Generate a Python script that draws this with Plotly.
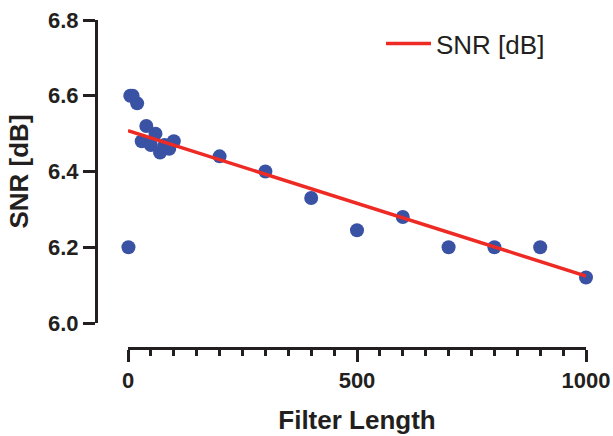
import plotly.graph_objects as go

filter_length = [1, 5, 10, 20, 30, 40, 50, 60, 70, 80, 90, 100,
                 200, 300, 400, 500, 600, 700, 800, 900, 1000]
snr_db = [6.20, 6.60, 6.60, 6.58, 6.48, 6.52, 6.47, 6.50, 6.45, 6.47, 6.46, 6.48,
          6.44, 6.40, 6.33, 6.245, 6.28, 6.20, 6.20, 6.20, 6.12]
fit_x = [0, 1000]
fit_y = [6.508, 6.124]

x_ticks = [0, 500, 1000]
y_ticks = [6.0, 6.2, 6.4, 6.6, 6.8]

FONT = "Liberation Sans, Arial, sans-serif"
W, H = 613, 436
ml, mt = 96, 20
mr = W - 586
mb = H - 348
pw = W - ml - mr
ph = H - mt - mb

fig = go.Figure()
fig.add_trace(go.Scatter(
    x=filter_length, y=snr_db, mode="markers",
    marker=dict(size=14, color="#3A52A4", line=dict(width=0)),
    showlegend=False, cliponaxis=False))
fig.add_trace(go.Scatter(
    x=fit_x, y=fit_y, mode="lines", name="SNR [dB]",
    line=dict(color="#EE2A24", width=3.5), cliponaxis=False))

fig.update_layout(
    width=W, height=H,
    margin=dict(l=ml, r=mr, t=mt, b=mb),
    paper_bgcolor="white", plot_bgcolor="white",
    font=dict(family=FONT, color="#231F20"),
    xaxis=dict(
        domain=[(128 - 96) / pw, 1], range=[0, 1000],
        anchor="free", position=0,
        showline=True, linecolor="#231F20", linewidth=3,
        showgrid=False, zeroline=False,
        ticks="outside", ticklen=12, tickwidth=3, tickcolor="#231F20",
        tickvals=x_ticks, ticktext=[str(v) for v in x_ticks],
        tickfont=dict(size=22, family=FONT, weight="bold"),
        ticklabeloverflow="allow",
        minor=dict(ticks="outside", dtick=50, ticklen=6, tickwidth=3, tickcolor="#231F20"),
        title=dict(text="<b>Filter Length</b>", font=dict(size=26, family=FONT), standoff=18),
        automargin=False,
    ),
    yaxis=dict(
        domain=[(348 - 323) / ph, 1], range=[6.0, 6.8],
        anchor="free", position=0,
        showline=True, linecolor="#231F20", linewidth=3,
        showgrid=False, zeroline=False,
        ticks="outside", ticklen=12, tickwidth=3, tickcolor="#231F20",
        tickvals=y_ticks, ticktext=[f"{v:.1f}" for v in y_ticks],
        tickfont=dict(size=22, family=FONT, weight="bold"),
        ticklabeloverflow="allow",
        title=dict(text="<b>SNR [dB]</b>", font=dict(size=26, family=FONT), standoff=10),
        automargin=False,
    ),
    legend=dict(
        x=(381 - 96) / pw, y=1.0, xanchor="left", yanchor="top",
        font=dict(size=26, family=FONT, color="#231F20"),
        bgcolor="rgba(0,0,0,0)", borderwidth=0, itemwidth=45,
    ),
)

fig.write_html(
    "out.html",
    config={"displayModeBar": False},
    post_script="document.body.style.margin='0px';document.body.style.overflow='hidden';",
)
